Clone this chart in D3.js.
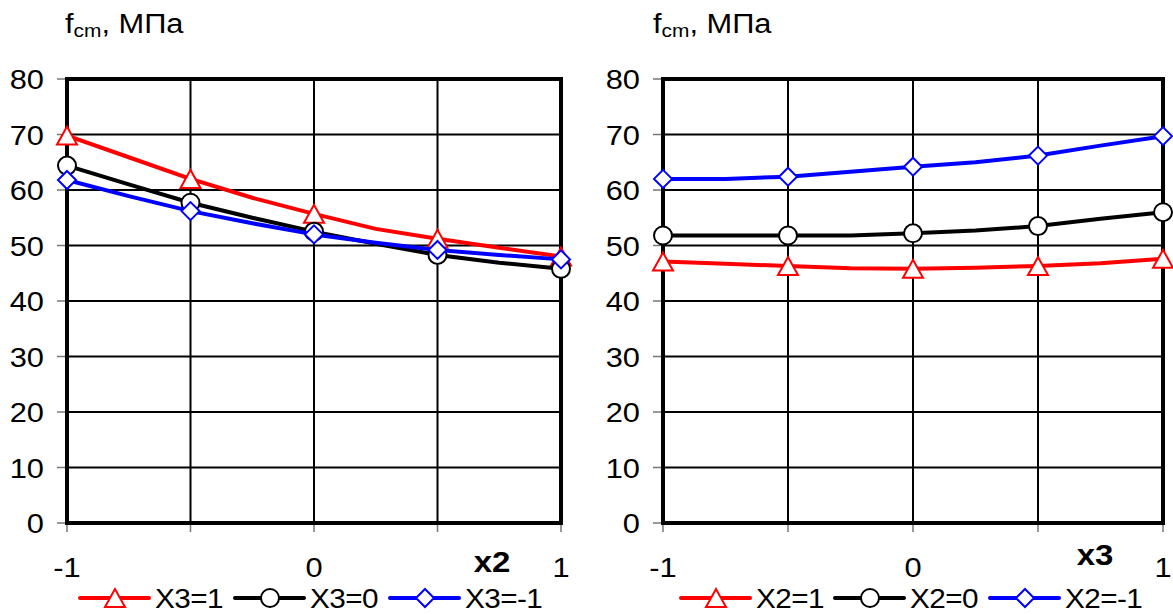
<!DOCTYPE html>
<html>
<head>
  <title>fcm charts</title>
  <style>
    body { margin: 0; background: #fff; }
    svg text { font-family: 'Liberation Sans', Arial, sans-serif; fill: #000; }
    text.tick-label { font-size: 28px; }
    text.title-label { font-size: 28px; }
    text.axis-name { font-size: 30px; font-weight: bold; }
    text.legend-label { font-size: 27px; letter-spacing: -0.5px; }
  </style>
</head>
<body>
<script src="https://cdn.jsdelivr.net/npm/d3@7/dist/d3.min.js"></script>
<script>
  // category positions (every other one carries a marker)
  var xCats = [-1, -0.75, -0.5, -0.25, 0, 0.25, 0.5, 0.75, 1];
  var yTicks = [0, 10, 20, 30, 40, 50, 60, 70, 80];
  var xTickLabels = [-1, 0, 1];

  // left chart: fcm vs x2
  var leftNames = ['X3=1', 'X3=0', 'X3=-1'];
  var leftRed = [69.8, 65.9, 62.0, 58.6, 55.7, 53.0, 51.2, 49.6, 48.0];
  var leftBlack = [64.4, 61.0, 57.7, 55.0, 52.5, 50.3, 48.3, 46.9, 45.8];
  var leftBlue = [61.8, 58.9, 56.2, 54.0, 52.0, 50.5, 49.2, 48.3, 47.5];

  // right chart: fcm vs x3
  var rightNames = ['X2=1', 'X2=0', 'X2=-1'];
  var rightRed = [47.1, 46.7, 46.3, 45.9, 45.8, 46.0, 46.3, 46.8, 47.6];
  var rightBlack = [51.8, 51.8, 51.8, 51.8, 52.2, 52.7, 53.5, 54.8, 56.0];
  var rightBlue = [62.0, 62.0, 62.4, 63.3, 64.2, 65.0, 66.2, 68.0, 69.7];

  var colors = ['#ff0000', '#000000', '#0000ff'];
  var shapes = ['triangle', 'circle', 'diamond'];

  var svg = d3.select('body')
    .append('svg')
    .attr('width', 1173)
    .attr('height', 614);

  // the source picture is a little wider than tall, stretch text to match
  function place(x, y) {
    return 'translate(' + x + ',' + y + ') scale(1.1,1)';
  }

  function marker(g, shape, color) {
    if (shape == 'triangle') {
      g.append('path').attr('d', 'M-10,9L10,9L0,-9Z');
    } else if (shape == 'circle') {
      g.append('circle').attr('r', 9);
    } else {
      g.append('path').attr('d', 'M0,-9L9,0L0,9L-9,0Z');
    }
    g.selectAll('path,circle')
      .attr('fill', '#fff')
      .attr('stroke', color)
      .attr('stroke-width', 2);
  }

  function drawChart(opt) {
    var x = d3.scaleLinear().domain([-1, 1]).range([opt.left, opt.right]);
    var y = d3.scaleLinear().domain([0, 80]).range([523, 79]);
    var g = svg.append('g');

    // horizontal grid
    g.selectAll('line.hgrid')
      .data(yTicks)
      .enter()
      .append('line')
      .attr('class', 'hgrid')
      .attr('x1', x(-1)).attr('x2', x(1))
      .attr('y1', function(d) { return y(d); })
      .attr('y2', function(d) { return y(d); })
      .attr('stroke', '#000')
      .attr('stroke-width', 2);

    // vertical grid at marker positions
    var gridX = xCats.filter(function(d, i) { return i % 2 == 0; });
    g.selectAll('line.vgrid')
      .data(gridX)
      .enter()
      .append('line')
      .attr('class', 'vgrid')
      .attr('x1', function(d) { return x(d); })
      .attr('x2', function(d) { return x(d); })
      .attr('y1', y(80)).attr('y2', y(0))
      .attr('stroke', '#000')
      .attr('stroke-width', 2);

    // tick marks
    g.selectAll('line.ytick')
      .data(yTicks)
      .enter()
      .append('line')
      .attr('x1', x(-1) - 10).attr('x2', x(-1))
      .attr('y1', function(d) { return y(d); })
      .attr('y2', function(d) { return y(d); })
      .attr('stroke', '#777')
      .attr('stroke-width', 1.5);
    g.selectAll('line.xtick')
      .data(gridX)
      .enter()
      .append('line')
      .attr('x1', function(d) { return x(d); })
      .attr('x2', function(d) { return x(d); })
      .attr('y1', y(0)).attr('y2', y(0) + 9)
      .attr('stroke', '#777')
      .attr('stroke-width', 1.5);

    // frame
    g.append('rect')
      .attr('x', x(-1)).attr('y', y(80))
      .attr('width', x(1) - x(-1))
      .attr('height', y(0) - y(80))
      .attr('fill', 'none')
      .attr('stroke', '#000')
      .attr('stroke-width', 4);

    // tick labels
    g.selectAll('text.ylab')
      .data(yTicks)
      .enter()
      .append('text')
      .attr('class', 'tick-label')
      .attr('transform', function(d) { return place(x(-1) - 23, y(d) + 10); })
      .attr('text-anchor', 'end')
      .text(function(d) { return d; });
    g.selectAll('text.xlab')
      .data(xTickLabels)
      .enter()
      .append('text')
      .attr('class', 'tick-label')
      .attr('transform', function(d) { return place(x(d), 577); })
      .attr('text-anchor', 'middle')
      .text(function(d) { return d; });

    g.append('text')
      .attr('class', 'axis-name')
      .attr('transform', place(opt.axisX, opt.axisY))
      .attr('text-anchor', 'middle')
      .text(opt.axisName);

    var title = g.append('text')
      .attr('class', 'title-label')
      .attr('transform', place(opt.titleX, 33));
    title.append('tspan').text('f');
    title.append('tspan').attr('dy', 4).style('font-size', '19px').text('cm');
    title.append('tspan').attr('dy', -4).text(', МПа');

    // series
    var line = d3.line()
      .x(function(d, i) { return x(xCats[i]); })
      .y(function(d) { return y(d); });

    opt.series.forEach(function(vals, k) {
      var s = g.append('g');
      s.append('path')
        .attr('d', line(vals))
        .attr('fill', 'none')
        .attr('stroke', colors[k])
        .attr('stroke-width', 4)
        .attr('stroke-linejoin', 'round');
      vals.forEach(function(v, i) {
        if (i % 2 != 0) return;
        var m = s.append('g')
          .attr('transform', 'translate(' + x(xCats[i]) + ',' + y(v) + ')');
        marker(m, shapes[k], colors[k]);
      });
    });

    // legend
    opt.names.forEach(function(name, k) {
      var lx = opt.legendX[k];
      var lg = g.append('g').attr('transform', 'translate(' + lx + ',598)');
      lg.append('line')
        .attr('x1', 0).attr('x2', 69)
        .attr('y1', 0).attr('y2', 0)
        .attr('stroke', colors[k])
        .attr('stroke-width', 4)
        .attr('stroke-linecap', 'round');
      var m = lg.append('g').attr('transform', 'translate(35,0)');
      marker(m, shapes[k], colors[k]);
      lg.append('text')
        .attr('class', 'legend-label')
        .attr('transform', place(75, 10))
        .text(name);
    });
  }

  drawChart({
    left: 67, right: 561,
    series: [leftRed, leftBlack, leftBlue],
    names: leftNames,
    legendX: [80, 235, 390],
    axisName: 'x2', axisX: 492, axisY: 572,
    titleX: 65
  });

  drawChart({
    left: 663, right: 1163,
    series: [rightRed, rightBlack, rightBlue],
    names: rightNames,
    legendX: [681, 835, 990],
    axisName: 'x3', axisX: 1095, axisY: 565,
    titleX: 653
  });
</script>
</body>
</html>
